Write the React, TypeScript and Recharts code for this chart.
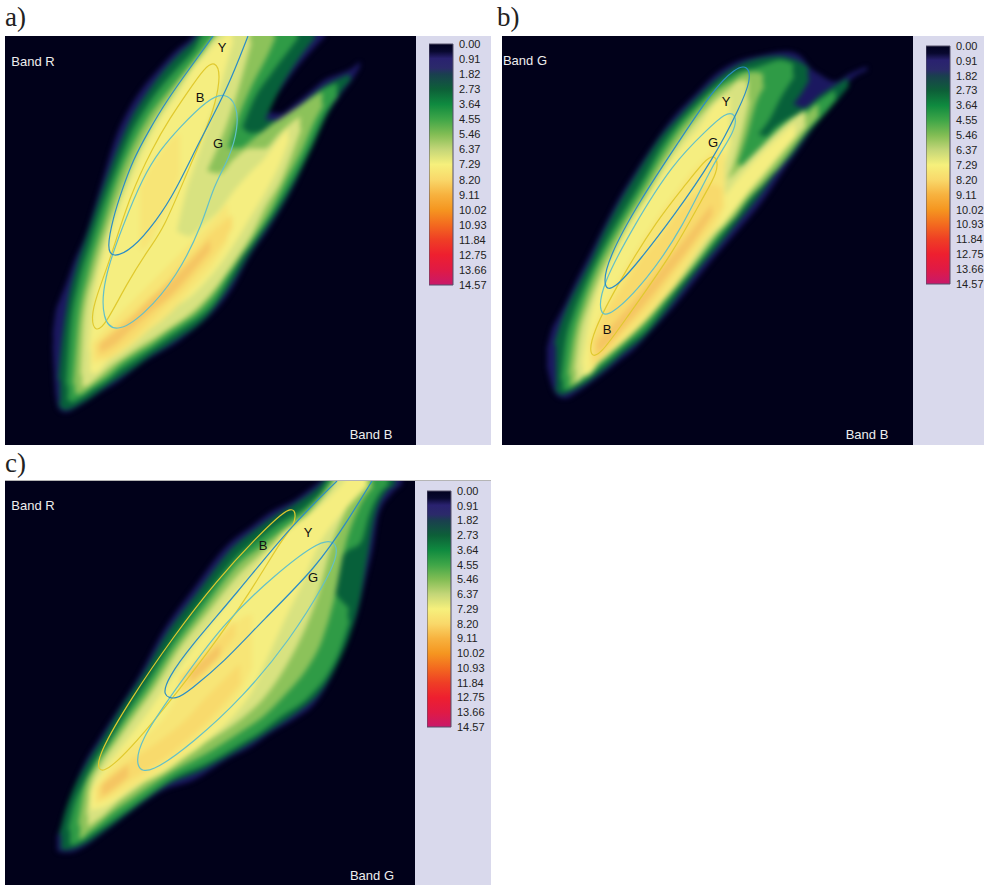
import { Area, Bar, BarChart, ComposedChart, Line, ReferenceDot, XAxis, YAxis } from "recharts";

// density contours: [band x, upper edge, lower edge]
type Row = [number, number, number];
type Pt = [number, number];

const levelColors = ["#1b1860", "#07603a", "#2f9b46", "#8cc25a", "#d8e280", "#f5ee80", "#f7e576", "#f8da6c", "#f5c562"];
const levelGrow = [1, 4, 4, 4, 3, 3, 2, 2, 1];
const colorTicks = [0, 0.91, 1.82, 2.73, 3.64, 4.55, 5.46, 6.37, 7.29, 8.2, 9.11, 10.02, 10.93, 11.84, 12.75, 13.66, 14.57];
const colorStops: [number, string][] = [
  [0, "#010120"], [0.03, "#08082e"], [0.06, "#2a2270"], [0.1, "#2b2a6a"], [0.125, "#1a3f4f"], [0.1875, "#0d5f38"],
  [0.25, "#0f8a3f"], [0.3125, "#3fa648"], [0.375, "#82bd54"], [0.4375, "#c4d678"], [0.5, "#f6f07c"], [0.5625, "#f9d86a"],
  [0.625, "#f7b23f"], [0.6875, "#f59620"], [0.75, "#f36a1f"], [0.8125, "#ef3e25"], [0.875, "#ee1f2f"], [0.9375, "#e01a45"], [1, "#c8196a"],
];

const a1: Row[][] = [
  [[53,335,345],[56,312,395],[60,300,410],[66,285,412],[75,260,408],[85,238,402],[100,190,392],[117,135,382],[130,108,372],[143,88,362],[160,68,352],[177,50,342],[190,40,332],[200,30,324],[215,30,310],[230,30,291],[250,30,255],[265,30,234]],
  [[265,30,112],[280,30,90],[297,30,67],[310,30,52],[325,30,36]],
  [[265,112,234],[280,114,210],[295,104,183],[310,92,150],[325,80,118],[340,74,95],[353,68,78],[360,62,66]],
];
const a2: Row[][] = [
  [[60,380,402],[64,340,408],[70,300,407],[78,268,403],[90,232,396],[105,188,385],[120,148,375],[135,115,365],[150,92,354],[165,72,345],[180,56,335],[195,42,325],[205,30,316],[225,30,290],[250,30,250],[262,30,232]],
  [[262,30,122],[280,30,85],[297,30,58],[314,30,36]],
  [[262,122,232],[280,122,205],[295,112,178],[310,100,148],[325,88,115],[340,80,90],[350,76,78]],
];
const a3: Row[][] = [
  [[68,385,397],[72,330,400],[80,285,396],[92,245,388],[105,205,380],[120,165,368],[135,130,358],[150,105,348],[165,85,338],[180,68,328],[195,52,318],[210,30,305],[240,30,255]],
  [[240,30,128],[253,30,97],[270,30,72],[285,30,52],[297,30,36]],
  [[240,128,255],[250,135,243],[265,133,222],[280,122,198],[295,112,172],[310,100,142],[325,90,110],[337,85,95]],
];
const a4: Row[][] = [
  [[75,385,392],[80,325,392],[90,275,385],[105,225,375],[120,180,362],[135,145,352],[150,118,343],[165,98,332],[180,80,322],[195,62,312],[205,50,302],[215,38,290],[225,30,275]],
  [[225,30,150],[235,30,120],[250,30,85],[268,30,50],[274,30,36]],
  [[225,150,275],[240,150,255],[255,140,232],[270,128,208],[285,118,178],[300,108,150],[312,100,122],[322,94,104]],
];
const a5: Row[][] = [
  [[82,375,385],[85,320,385],[95,275,378],[110,225,365],[125,185,355],[140,150,345],[155,122,336],[170,100,326],[185,78,316],[195,65,308],[205,52,298]],
  [[205,52,172],[215,38,150],[225,30,125],[235,30,95],[250,30,42]],
  [[205,172,298],[220,175,280],[235,160,258],[250,150,235],[265,150,205],[280,135,180],[292,124,150],[300,118,128]],
];
const a6: Row[][] = [
  [[90,350,370],[95,300,372],[105,255,362],[118,215,350],[130,185,340],[145,150,330],[160,122,320],[175,100,305]],
  [[175,100,232],[185,85,190],[195,68,160],[205,58,128],[215,46,100],[225,38,65],[232,30,40]],
  [[175,232,305],[190,238,295],[205,225,280],[220,212,262],[235,192,240],[250,175,215],[265,160,190],[280,140,160],[288,130,138]],
];
const a6b: Row[][] = [
  [[140,190,250],[150,170,240],[160,155,220],[172,140,195],[180,135,170]],
  [[92,345,362],[110,325,358],[130,305,345],[150,285,328],[170,265,312],[190,245,290],[210,225,268],[228,205,240]],
];
const a7: Row[][] = [
  [[96,346,356],[105,338,356],[120,325,347],[135,312,335],[150,298,320],[165,285,305],[180,268,292],[195,252,275],[210,235,258],[225,222,238],[232,216,226]],
];
const a8: Row[][] = [
  [[100,344,352],[115,332,344],[130,320,330],[150,300,312],[170,282,296],[190,262,274],[210,240,250]],
];

const b1: Row[][] = [
  [[547,350,365],[552,330,385],[558,318,396],[565,305,398],[577,280,392],[590,255,383],[605,225,372],[620,197,360],[633,176,350],[650,150,332],[673,118,307],[697,93,278],[715,75,256],[737,62,231],[760,56,204],[787,52,165],[800,56,147],[810,68,132],[820,75,118],[835,82,100],[850,74,80],[867,67,70]],
];
const b2: Row[][] = [
  [[556,345,388],[562,325,393],[570,305,390],[580,285,385],[592,262,377],[606,232,366],[622,202,352],[640,172,338],[663,137,312],[680,118,290],[697,100,268],[715,83,247],[737,68,220],[760,60,192],[780,58,165],[790,60,155]],
  [[790,60,105],[800,64,92],[808,70,78]],
  [[790,105,155],[805,110,135],[820,98,117],[835,88,100],[848,80,84]],
];
const b3: Row[][] = [
  [[563,380,388],[567,345,388],[575,315,383],[585,290,378],[598,262,367],[612,235,356],[628,208,342],[645,180,328],[663,148,305],[680,125,283],[697,107,263],[715,90,240],[735,75,215],[755,70,190]],
  [[755,70,135],[767,66,120],[780,62,95],[793,66,75]],
  [[755,135,190],[767,138,174],[775,130,170],[790,120,150],[805,112,130],[820,102,115],[835,92,97]],
];
const b4: Row[][] = [
  [[570,375,385],[575,340,382],[585,305,372],[598,272,362],[612,245,350],[628,218,336],[645,190,320],[665,155,297],[682,130,278],[700,110,255],[718,92,232],[735,82,215]],
  [[735,82,165],[745,75,135],[755,74,100],[763,76,85]],
  [[735,165,215],[745,168,200],[760,160,185],[775,145,168],[790,130,150],[805,118,130],[818,106,114]],
];
const b5: Row[][] = [
  [[576,370,382],[580,340,378],[590,305,368],[602,275,358],[615,250,347],[630,222,332],[648,195,315],[665,165,295],[682,140,275],[700,118,252],[715,102,232],[722,96,225]],
  [[722,96,185],[730,90,170],[740,82,135],[748,82,100]],
  [[722,185,225],[735,175,208],[745,165,195],[760,150,178],[775,135,160],[790,122,142],[805,112,125]],
];
const b6: Row[][] = [
  [[583,365,375],[590,325,372],[600,290,358],[612,262,346],[625,238,333],[640,212,318],[655,188,303],[670,165,285],[685,145,262],[700,128,245],[712,110,232]],
  [[712,110,195],[722,100,170],[730,98,140]],
  [[712,215,232],[720,205,225],[735,185,208],[750,168,188],[765,152,170],[780,138,152],[795,125,135]],
];
const b6b: Row[][] = [
  [[590,345,368],[600,318,360],[615,290,348],[630,262,335],[645,238,320],[660,215,303],[675,195,285],[690,175,262],[705,160,240],[718,150,222],[725,155,205]],
];
const b7: Row[][] = [
  [[592,345,362],[600,325,358],[612,305,345],[625,285,330],[640,262,315],[655,245,298],[670,225,278],[685,205,258],[700,192,238],[712,185,222],[722,190,205]],
];
const b8: Row[][] = [
  [[597,342,354],[610,328,342],[625,312,326],[640,295,309],[655,277,291],[670,258,272],[685,240,253],[700,220,232],[712,205,214]],
];

const c1: Row[][] = [
  [[57,838,850],[62,825,852],[70,800,852],[83,767,847],[100,738,835],[120,707,820],[140,675,805],[163,632,790],[193,590,780],[230,543,757],[250,528,747],[270,513,733],[297,499,717],[313,487,705],[333,475,673],[345,475,645],[357,475,613],[365,475,580],[372,475,550],[378,475,515],[390,475,495],[402,475,484]],
];
const c2: Row[][] = [
  [[61,835,847],[66,815,848],[75,790,846],[88,765,840],[105,738,828],[125,705,813],[145,675,798],[168,635,782],[198,595,770],[235,548,750],[255,532,738],[275,518,725],[300,503,708],[318,490,692],[335,475,665],[348,475,635],[358,475,600],[365,475,560],[372,475,520],[385,475,490],[395,475,483]],
];
const c3: Row[][] = [
  [[70,830,843],[76,805,842],[85,785,837],[95,765,830],[110,742,820],[130,710,806],[150,680,792],[175,640,775],[205,600,762],[240,556,742],[260,540,730],[280,525,715],[305,510,698],[322,495,680]],
  [[322,495,580],[338,475,558],[348,475,548],[355,475,545],[360,475,540],[367,475,515],[378,475,492],[388,475,483]],
  [[322,580,680],[338,600,650],[348,610,620]],
];
const c4: Row[][] = [
  [[80,825,838],[86,790,832],[95,770,825],[110,748,812],[130,718,798],[150,690,784],[175,650,768],[205,610,752],[240,565,730],[262,548,715],[285,530,692],[305,515,668],[320,500,640],[332,487,600],[342,475,550],[358,475,505],[372,475,485]],
];
const c5: Row[][] = [
  [[88,815,825],[92,785,822],[102,765,815],[118,742,800],[135,718,788],[155,690,772],[180,650,755],[210,612,738],[240,575,718],[262,555,698],[285,537,665],[303,522,630],[318,505,590],[330,490,545],[340,475,520],[352,475,495],[362,475,483]],
];
const c6: Row[][] = [
  [[90,795,808],[95,785,808],[105,770,805],[117,755,798],[135,732,785],[150,712,778],[165,690,770],[183,665,757],[200,640,745],[217,618,730],[235,595,712],[250,578,692],[265,558,660],[283,535,620],[300,522,585],[317,510,545],[343,485,510],[352,475,500],[367,475,485]],
];
const c6b: Row[][] = [
  [[95,790,803],[110,770,798],[125,752,790],[145,738,778],[165,718,765],[185,685,750],[205,655,730],[225,635,710],[240,620,690],[252,615,665]],
];
const c7: Row[][] = [
  [[98,790,800],[112,775,792],[125,765,782],[145,752,770],[165,738,757],[185,722,740],[205,700,722],[225,680,700],[240,665,682]],
  [[180,678,692],[195,665,682],[210,648,665],[225,632,648],[235,622,634]],
];
const c8: Row[][] = [
  [[102,785,796],[115,775,787],[128,765,776]],
  [[190,672,682],[205,658,670],[220,645,655]],
];

// class ellipses, traced by eye (control points of a smooth curve)
const aY: Pt[] = [[213,36],[190,68],[167,100],[148,132],[133,160],[122,190],[113,218],[107,248],[112,258],[132,250],[157,220],[175,192],[200,140],[227,90],[248,36]];
const aB: Pt[] = [[153,147],[170,118],[187,93],[205,67],[215,61],[221,74],[215,105],[207,127],[187,173],[163,230],[150,247],[127,283],[105,326],[95,332],[91,318],[96,297],[110,260],[130,195]];
const aG: Pt[] = [[143,177],[160,150],[180,127],[207,100],[225,92],[237,105],[238,128],[230,157],[213,187],[203,223],[177,277],[143,316],[116,333],[102,320],[103,280],[123,225]];
const bY: Pt[] = [[680,140],[713,90],[735,68],[748,65],[751,80],[740,107],[713,160],[673,217],[640,260],[613,291],[603,288],[607,260],[640,200]];
const bG: Pt[] = [[673,163],[707,130],[725,113],[736,113],[736,130],[713,163],[683,227],[647,280],[610,317],[599,314],[601,287],[633,227]];
const bB: Pt[] = [[657,220],[687,183],[708,156],[717,156],[718,172],[703,197],[673,253],[627,317],[600,356],[589,357],[592,333],[620,280]];
const cY: Pt[] = [[337,481],[290,527],[237,593],[190,647],[168,678],[162,696],[176,700],[190,690],[223,663],[263,620],[317,567],[350,517],[372,481]];
const cB: Pt[] = [[173,637],[217,580],[257,537],[285,510],[296,508],[295,525],[283,537],[250,593],[210,650],[150,727],[110,770],[97,772],[99,753],[130,700]];
const cG: Pt[] = [[223,623],[277,573],[315,544],[333,539],[339,552],[327,580],[290,640],[243,697],[193,743],[150,774],[135,769],[140,740],[173,693]];

const yellowLine = "#e0c92e";
const cyanLine = "#63c0c8";
const blueLine = "#2a8cc6";

type PanelProps = {
  x0: number; y0: number; w: number; h: number;
  levels: Row[][][];
  ellipses: { pts: Pt[]; color: string; closed: boolean }[];
  labels: { x: number; y: number; text: string; color: string; size: number }[];
  sideW: number;
  barLeft: number; barTop: number; barH: number;
};

function Axes({ x0, y0, w, h, pad }: { x0: number; y0: number; w: number; h: number; pad: number }) {
  return (
    <>
      <XAxis type="number" dataKey="x" domain={[x0 - pad, x0 + w + pad]} hide allowDataOverflow />
      <YAxis type="number" reversed domain={[y0 - pad, y0 + h + pad]} hide allowDataOverflow />
    </>
  );
}

function ColorBar({ left, top, height, id }: { left: number; top: number; height: number; id: string }) {
  return (
    <div style={{ position: "absolute", left, top: top - 10 }}>
      <BarChart width={64} height={height + 20} data={[{ name: "scale", v: 14.57 }]} margin={{ top: 10, bottom: 10, left: 0, right: 0 }} barCategoryGap={0}>
        <defs>
          <linearGradient id={id} x1="0" y1="0" x2="0" y2="1">
            {colorStops.map(([o, c]) => (
              <stop key={o} offset={o} stopColor={c} />
            ))}
          </linearGradient>
        </defs>
        <XAxis dataKey="name" hide />
        <YAxis
          orientation="right"
          reversed
          type="number"
          domain={[0, 14.57]}
          ticks={colorTicks}
          interval={0}
          width={40}
          axisLine={false}
          tickLine={false}
          tickMargin={0}
          tickFormatter={(v: number) => v.toFixed(2)}
          tick={{ fill: "#222", fontSize: 11, fontFamily: "Liberation Sans" }}
        />
        <Bar dataKey="v" fill={`url(#${id})`} stroke="#55506a" strokeWidth={1} isAnimationActive={false} />
      </BarChart>
    </div>
  );
}

function Panel({ x0, y0, w, h, levels, ellipses, labels, sideW, barLeft, barTop, barH }: PanelProps) {
  const pad = 8;
  return (
    <>
      <div style={{ position: "absolute", left: x0, top: y0, width: w, height: h, overflow: "hidden", background: "#01011a" }}>
        <div style={{ position: "absolute", left: -pad, top: -pad, filter: "blur(2.4px)" }}>
          <ComposedChart width={w + pad * 2} height={h + pad * 2} margin={{ top: 0, right: 0, bottom: 0, left: 0 }}>
            {Axes({ x0, y0, w, h, pad })}
            {levels.flatMap((pieces, i) =>
              pieces.map((rows, j) => (
                <Area
                  key={`${i}-${j}`}
                  data={rows.map(([x, lo, hi]) => ({ x, range: [lo, hi] }))}
                  dataKey="range"
                  type="monotone"
                  fill={levelColors[i]}
                  fillOpacity={1}
                  stroke={levelColors[i]}
                  strokeWidth={levelGrow[i]}
                  dot={false}
                  activeDot={false}
                  isAnimationActive={false}
                />
              ))
            )}
          </ComposedChart>
        </div>
        <div style={{ position: "absolute", left: 0, top: 0 }}>
          <ComposedChart width={w} height={h} margin={{ top: 0, right: 0, bottom: 0, left: 0 }}>
            {Axes({ x0, y0, w, h, pad: 0 })}
            {ellipses.map((e, i) => (
              <Line
                key={i}
                data={e.pts.map(([x, y]) => ({ x, y }))}
                dataKey="y"
                type={e.closed ? "basisClosed" : "basis"}
                stroke={e.color}
                strokeWidth={1.2}
                dot={false}
                activeDot={false}
                isAnimationActive={false}
              />
            ))}
            {labels.map((l) => (
              <ReferenceDot
                key={l.text + l.x}
                x={l.x}
                y={l.y}
                r={0}
                ifOverflow="visible"
                stroke="none"
                label={{ value: l.text, fill: l.color, fontSize: l.size, fontFamily: "Liberation Sans", position: "center" }}
              />
            ))}
          </ComposedChart>
        </div>
      </div>
      <div style={{ position: "absolute", left: x0 + w, top: y0, width: sideW, height: h, background: "#d9d9ec" }} />
      <ColorBar left={barLeft} top={barTop} height={barH} id={`scale${x0}${y0}`} />
    </>
  );
}

const titleStyle = { position: "absolute", fontFamily: "Liberation Serif", fontSize: 27, color: "#222", lineHeight: "28px" } as const;

export default function App() {
  return (
    <div style={{ position: "absolute", left: 0, top: 0, width: 984, height: 886, background: "#fff", overflow: "hidden" }}>
      <div style={{ ...titleStyle, left: 5, top: 3 }}>a)</div>
      <div style={{ ...titleStyle, left: 497, top: 3 }}>b)</div>
      <div style={{ ...titleStyle, left: 5, top: 449 }}>c)</div>
      <Panel
        x0={5} y0={36} w={411} h={409} sideW={75} barLeft={429} barTop={44} barH={241}
        levels={[a1, a2, a3, a4, a5, a6, a6b, a7, a8]}
        ellipses={[{ pts: aB, color: yellowLine, closed: true }, { pts: aG, color: cyanLine, closed: true }, { pts: aY, color: blueLine, closed: false }]}
        labels={[
          { x: 33, y: 61, text: "Band R", color: "#eee", size: 13 },
          { x: 371, y: 434, text: "Band B", color: "#eee", size: 13 },
          { x: 222, y: 47, text: "Y", color: "#111", size: 13 },
          { x: 200, y: 97, text: "B", color: "#111", size: 13 },
          { x: 218, y: 143, text: "G", color: "#111", size: 13 },
        ]}
      />
      <Panel
        x0={502} y0={36} w={411} h={409} sideW={71} barLeft={926} barTop={46} barH={238}
        levels={[b1, b2, b3, b4, b5, b6, b6b, b7, b8]}
        ellipses={[{ pts: bB, color: yellowLine, closed: true }, { pts: bG, color: cyanLine, closed: true }, { pts: bY, color: blueLine, closed: true }]}
        labels={[
          { x: 525, y: 60, text: "Band G", color: "#eee", size: 13 },
          { x: 867, y: 434, text: "Band B", color: "#eee", size: 13 },
          { x: 726, y: 101, text: "Y", color: "#111", size: 13 },
          { x: 713, y: 142, text: "G", color: "#111", size: 13 },
          { x: 607, y: 329, text: "B", color: "#111", size: 13 },
        ]}
      />
      <Panel
        x0={5} y0={481} w={410} h={404} sideW={76} barLeft={427} barTop={491} barH={236}
        levels={[c1, c2, c3, c4, c5, c6, c6b, c7, c8]}
        ellipses={[{ pts: cB, color: yellowLine, closed: true }, { pts: cG, color: cyanLine, closed: true }, { pts: cY, color: blueLine, closed: false }]}
        labels={[
          { x: 33, y: 505, text: "Band R", color: "#eee", size: 13 },
          { x: 372, y: 875, text: "Band G", color: "#eee", size: 13 },
          { x: 263, y: 545, text: "B", color: "#111", size: 13 },
          { x: 308, y: 532, text: "Y", color: "#111", size: 13 },
          { x: 313, y: 577, text: "G", color: "#111", size: 13 },
        ]}
      />
      <div style={{ position: "absolute", left: 5, top: 480, width: 486, height: 1, background: "#b5b5b5" }} />
    </div>
  );
}
